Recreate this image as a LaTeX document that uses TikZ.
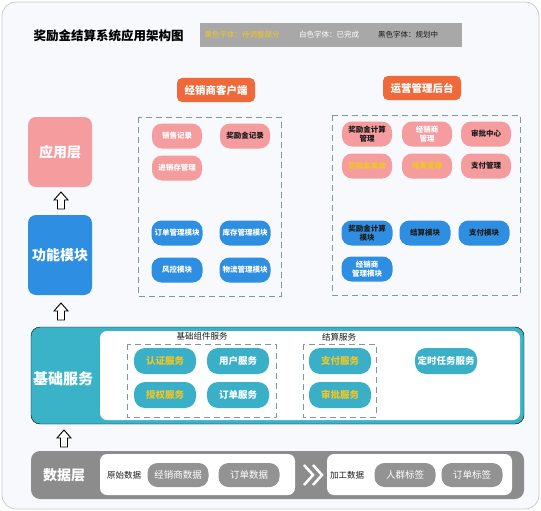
\documentclass[tikz,border=0pt]{standalone}
\usepackage{fontspec}
\setmainfont{Noto Sans CJK SC}
\usetikzlibrary{positioning}

\definecolor{pagebg}{HTML}{F7F9FC}
\definecolor{pinkc}{HTML}{F59C9E}
\definecolor{bluec}{HTML}{2E8FE2}
\definecolor{tealc}{HTML}{3AB3C9}
\definecolor{tealpill}{HTML}{3AAFC8}
\definecolor{orangec}{HTML}{F0693A}
\definecolor{grayc}{HTML}{8C8C8C}
\definecolor{graypill}{HTML}{939393}
\definecolor{legendc}{HTML}{A8A8A8}
\definecolor{dashc}{HTML}{7D9A9E}
\definecolor{yellowt}{HTML}{F3C623}
\definecolor{darkt}{HTML}{1A1A1A}

\tikzset{
  layerbox/.style={rounded corners=8pt, text=white, font=\fontsize{14}{16}\selectfont\bfseries},
  headbox/.style={fill=orangec, rounded corners=5pt, text=white, minimum width=78pt, minimum height=24pt,
    font=\fontsize{10.5}{12}\selectfont\bfseries},
  pill/.style={rounded corners=10pt, minimum height=25pt, inner sep=1pt, align=center,
    font=\fontsize{7.5}{9}\selectfont\bfseries},
  apppill/.style={pill, fill=pinkc, minimum width=50pt},
  funcpill/.style={pill, fill=bluec, minimum width=51pt},
  basepill/.style={pill, fill=tealpill, minimum width=62pt, minimum height=26pt, rounded corners=11pt,
    font=\fontsize{9.5}{11}\selectfont\bfseries},
  datapill/.style={pill, fill=graypill, minimum width=61pt, minimum height=24pt,
    font=\fontsize{9.5}{11}\selectfont},
  dashbox/.style={draw=dashc, line width=1pt, dash pattern=on 6pt off 4pt},
  grouptitle/.style={font=\fontsize{8.5}{10}\selectfont, text=darkt},
  uparrow/.pic={\draw[line width=0.9pt, fill=white, line join=miter]
    (0,-9) -- (7,-1) -- (3.5,-1) -- (3.5,8) -- (-3.5,8) -- (-3.5,-1) -- (-7,-1) -- cycle;}
}

\begin{document}
\begin{tikzpicture}[x=1pt, y=-1pt]
  \useasboundingbox (0,0) rectangle (541,511);
  % page
  \draw[fill=pagebg, draw=black!20, line width=0.8pt, rounded corners=14pt] (2,2) rectangle (539,509);

  % title and legend
  \node[anchor=west, font=\fontsize{12.5}{14}\selectfont\bfseries] (title) at (30,36) {奖励金结算系统应用架构图};
  \node[fill=legendc, minimum width=262pt, minimum height=24pt] (legend) at (331,35) {};
  \node[font=\fontsize{7.5}{9}\selectfont, text=yellowt] (legy) at (242,35) {黄色字体：待调整部分};
  \node[font=\fontsize{7.5}{9}\selectfont, text=white] (legw) at (329,35) {白色字体：已完成};
  \node[font=\fontsize{7.5}{9}\selectfont, text=darkt] (legb) at (408,35) {黑色字体：规划中};

  % column headers
  \node[headbox] (dealer) at (216,90) {经销商客户端};
  \node[headbox] (ops) at (422,88) {运营管理后台};

  % layer labels
  \node[layerbox, fill=pinkc, minimum width=64pt, minimum height=70pt] (app) at (60,152) {应用层};
  \node[layerbox, fill=bluec, minimum width=64pt, minimum height=80pt] (func) at (60,255) {功能模块};
  \pic at (61,201) {uparrow};
  \pic at (61,312) {uparrow};
  \pic at (64,439) {uparrow};

  % dealer client
  \draw[dashbox] (138,117) rectangle (281,296);
  \node[apppill, text=white] (sales) at (177,136) {销售记录};
  \node[apppill, text=darkt] (bonusrec) at (245,136) {奖励金记录};
  \node[apppill, text=white] (stock) at (177,168) {进销存管理};
  \node[funcpill, text=white] (ordermod) at (177,233) {订单管理模块};
  \node[funcpill, text=white] (stockmod) at (245,233) {库存管理模块};
  \node[funcpill, text=white] (riskmod) at (177,270) {风控模块};
  \node[funcpill, text=white] (logimod) at (245,270) {物流管理模块};

  % operations backend
  \draw[dashbox] (332,115) rectangle (520,295);
  \node[apppill, text=darkt] (calcmgr) at (367,134) {奖励金计算\\管理};
  \node[apppill, text=white] (dealermgr) at (427,134) {经销商\\管理};
  \node[apppill, text=darkt] (approve) at (486,134) {审批中心};
  \node[apppill, text=yellowt] (issuemgr) at (367,166) {奖励金发放};
  \node[apppill, text=yellowt] (settlemgr) at (427,166) {结算管理};
  \node[apppill, text=darkt] (paymgr) at (486,166) {支付管理};
  \node[funcpill, text=darkt] (calcmod) at (367,233) {奖励金计算\\模块};
  \node[funcpill, text=darkt] (settlemod) at (425,233) {结算模块};
  \node[funcpill, text=darkt] (paymod) at (484,233) {支付模块};
  \node[funcpill, text=white] (dealermod) at (367,269) {经销商\\管理模块};

  % base services
  \draw[fill=tealc, rounded corners=9pt] (31,327) rectangle (524,424);
  \draw[fill=white, draw=none, rounded corners=7pt] (100,331) rectangle (520,420);
  \node[layerbox, font=\fontsize{15}{17}\selectfont\bfseries] (base) at (63,379) {基础服务};
  \node[grouptitle] (comptitle) at (202,336) {基础组件服务};
  \draw[dashbox] (127,344) rectangle (276,417);
  \node[basepill, text=yellowt] (auth) at (165,361) {认证服务};
  \node[basepill, text=white] (user) at (238,361) {用户服务};
  \node[basepill, text=yellowt] (grant) at (165,395) {授权服务};
  \node[basepill, text=white] (order) at (238,395) {订单服务};
  \node[grouptitle] (settletitle) at (339,337) {结算服务};
  \draw[dashbox] (303,344) rectangle (376,417);
  \node[basepill, text=yellowt] (pay) at (340,361) {支付服务};
  \node[basepill, text=yellowt] (audit) at (340,395) {审批服务};
  \node[basepill, text=white] (timer) at (446,361) {定时任务服务};

  % data layer
  \draw[fill=grayc, draw=none, rounded corners=9pt] (31,451) rectangle (524,499);
  \node[layerbox] (data) at (64,475) {数据层};
  \draw[fill=white, draw=none, rounded corners=7pt] (100,454) rectangle (295,495);
  \node[font=\fontsize{8.5}{10}\selectfont, text=darkt] (raw) at (124,475) {原始数据};
  \node[datapill, text=white] (dealerdata) at (178,475) {经销商数据};
  \node[datapill, text=white] (orderdata) at (249,475) {订单数据};
  \draw[white, line width=2.5pt] (304,465) -- (313,475) -- (304,485) (313,465) -- (322,475) -- (313,485);
  \draw[fill=white, draw=none, rounded corners=7pt] (327,454) rectangle (512,495);
  \node[font=\fontsize{8.5}{10}\selectfont, text=darkt] (proc) at (347,475) {加工数据};
  \node[datapill, text=white] (crowd) at (405,475) {人群标签};
  \node[datapill, text=white] (ordertag) at (472,475) {订单标签};
\end{tikzpicture}
\end{document}
